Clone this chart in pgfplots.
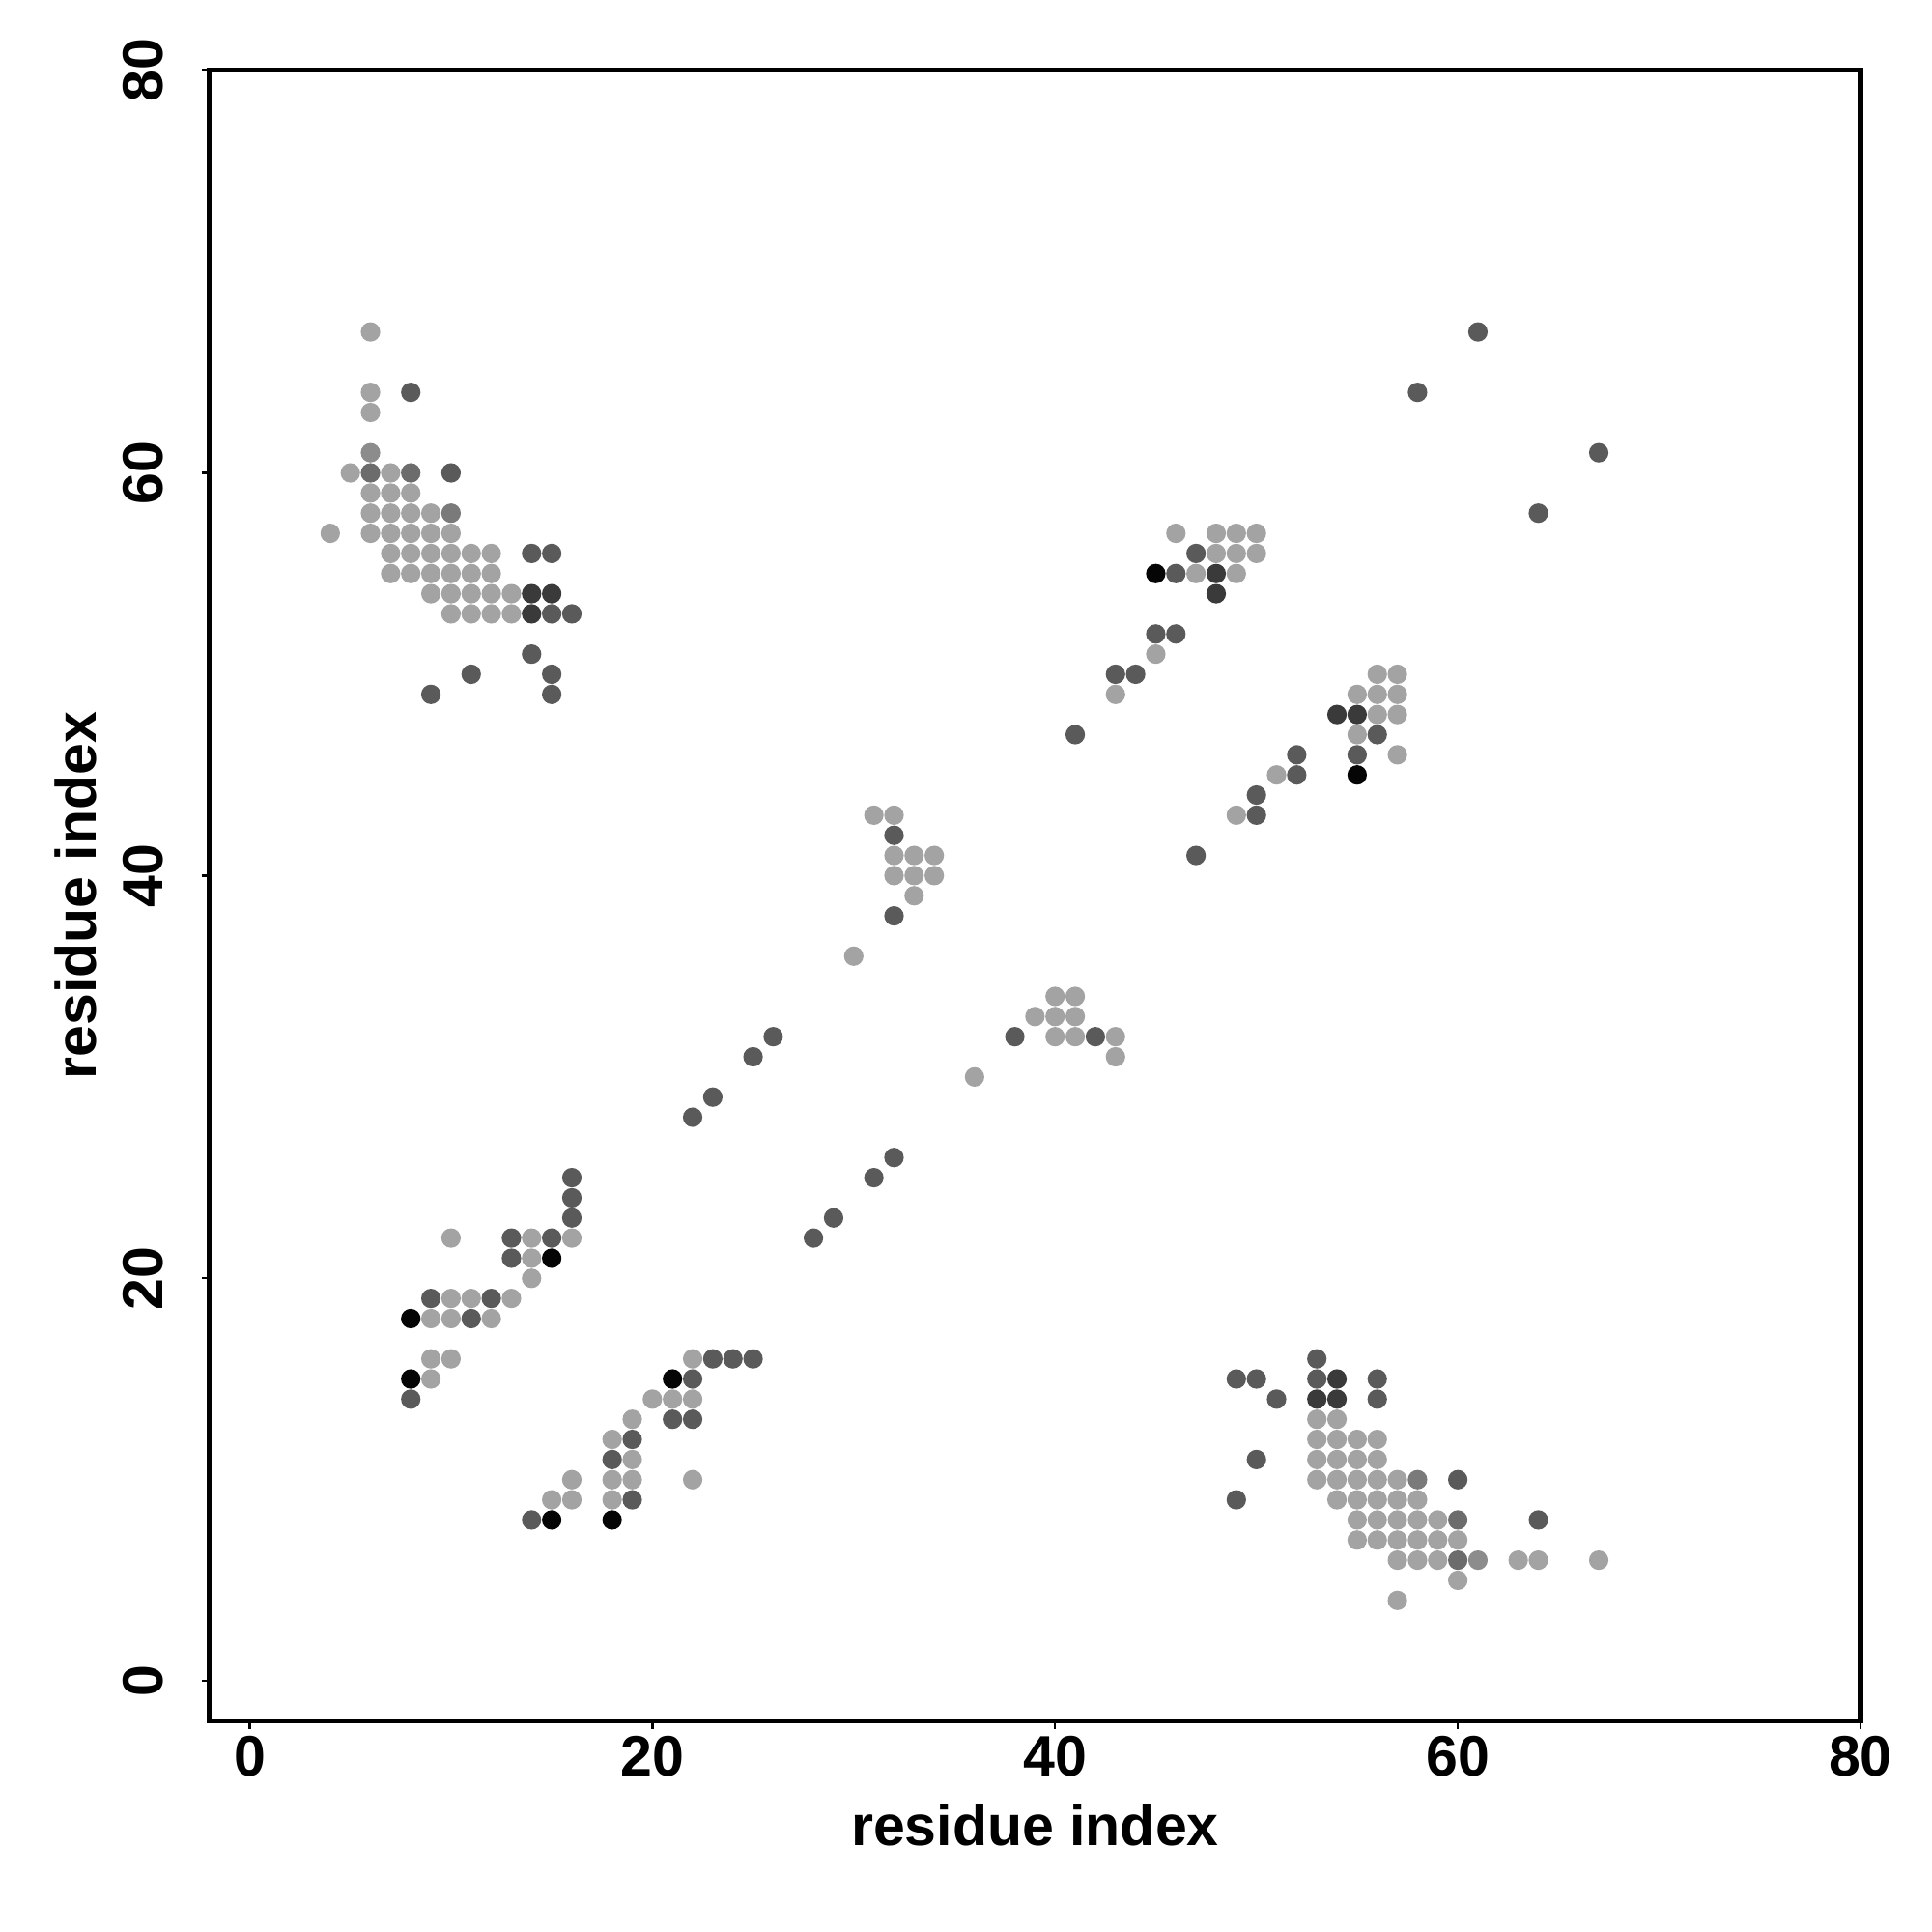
\documentclass[border=0pt]{standalone}
\usepackage{pgfplots}
\pgfplotsset{compat=1.18}
\usepackage{fontspec}
\setmainfont{Liberation Sans}
\definecolor{cL}{HTML}{A3A3A3}
\definecolor{cM1}{HTML}{8C8C8C}
\definecolor{cM2}{HTML}{7A7A7A}
\definecolor{cM3}{HTML}{6C6C6C}
\definecolor{cD}{HTML}{5A5A5A}
\definecolor{cVD}{HTML}{3A3A3A}
\definecolor{cB}{HTML}{050505}
\begin{document}
\begin{tikzpicture}
\begin{axis}[
  scale only axis,
  width=12.82cm, height=12.82cm,
  xmin=-2, xmax=80, ymin=-2, ymax=80,
  xtick={0,20,40,60,80}, ytick={0,20,40,60,80},
  xtick pos=bottom, ytick pos=left,
  tick align=outside,
  major tick length=0.06cm,
  tick style={line width=0.5pt, black},
  axis line style={line width=1.1pt},
  /pgf/number format/assume math mode=true,
  ticklabel style={font=\bfseries\fontsize{12.6}{15}\selectfont},
  xticklabel style={anchor=north, inner sep=0pt},
  xticklabel shift=0.05cm,
  yticklabel style={rotate=90, anchor=south, inner sep=0pt},
  yticklabel shift=0.29cm,
  label style={font=\bfseries\fontsize{12.6}{15}\selectfont},
  xlabel={residue index},
  ylabel={residue index},
  xlabel style={at={(axis description cs:0.5,-0.0753)}, anchor=base, inner sep=0pt},
  ylabel style={at={(axis description cs:-0.0685,0.5)}, anchor=base, inner sep=0pt},
  every axis plot/.append style={only marks, mark=*, mark size=1.95pt},
]
% light
\addplot[cL, mark options={fill=cL, draw=cL}] coordinates {
(6,67) (6,64) (6,63) (5,60) (7,60) (6,59) (7,59) (8,59) (6,58) (7,58) (8,58) (9,58) (4,57) (6,57) (7,57) (8,57) (9,57) (10,57) (7,56) (8,56) (9,56) (10,56) (11,56) (12,56) (7,55) (8,55) (9,55) (10,55) (11,55) (12,55) (9,54) (10,54) (11,54) (12,54) (13,54) (10,53) (11,53) (12,53) (13,53)
(10,22) (14,22) (16,22) (14,21) (14,20) (10,19) (11,19) (13,19) (9,18) (10,18) (12,18) (9,16) (10,16) (9,15)
(30,36) (31,43) (32,43) (32,41) (33,41) (34,41) (32,40) (33,40) (34,40) (33,39)
(43,49) (45,51) (46,57) (48,57) (49,57) (50,57) (48,56) (49,56) (50,56) (47,55) (49,55)
(67,6) (64,6) (63,6) (60,5) (60,7) (59,6) (59,7) (59,8) (58,6) (58,7) (58,8) (58,9) (57,4) (57,6) (57,7) (57,8) (57,9) (57,10) (56,7) (56,8) (56,9) (56,10) (56,11) (56,12) (55,7) (55,8) (55,9) (55,10) (55,11) (55,12) (54,9) (54,10) (54,11) (54,12) (54,13) (53,10) (53,11) (53,12) (53,13)
(22,10) (22,14) (22,16) (21,14) (20,14) (19,10) (19,11) (19,13) (18,9) (18,10) (18,12) (16,9) (16,10) (15,9)
(36,30) (43,31) (43,32) (41,32) (41,33) (41,34) (40,32) (40,33) (40,34) (39,33)
(49,43) (51,45) (57,46) (57,48) (57,49) (57,50) (56,48) (56,49) (56,50) (55,47) (55,49)
};
% medium shades
\addplot[cM1, mark options={fill=cM1, draw=cM1}] coordinates {(6,61) (61,6)};
\addplot[cM2, mark options={fill=cM2, draw=cM2}] coordinates {(10,58) (58,10)};
\addplot[cM3, mark options={fill=cM3, draw=cM3}] coordinates {(6,60) (8,60) (60,6) (60,8)};
% dark
\addplot[cD, mark options={fill=cD, draw=cD}] coordinates {
(8,64) (10,60) (14,56) (15,56) (15,53) (16,53) (14,51) (11,50) (15,50) (9,49) (15,49) (16,25) (16,24) (16,23) (13,22) (15,22) (13,21) (9,19) (12,19) (11,18) (8,14) (22,28) (23,29) (25,31) (26,32) (32,38) (32,42) (41,47) (43,50) (44,50) (45,52) (46,52) (47,56) (46,55) (58,64) (61,67)
(64,8) (60,10) (56,14) (56,15) (53,15) (53,16) (51,14) (50,11) (50,15) (49,9) (49,15) (25,16) (24,16) (23,16) (22,13) (22,15) (21,13) (19,9) (19,12) (18,11) (14,8) (28,22) (29,23) (31,25) (32,26) (38,32) (42,32) (47,41) (50,43) (50,44) (52,45) (52,46) (56,47) (55,46) (64,58) (67,61)
};
% very dark
\addplot[cVD, mark options={fill=cVD, draw=cVD}] coordinates {
(14,54) (15,54) (14,53) (48,55) (48,54) (54,14) (54,15) (53,14) (55,48) (54,48)
};
% black
\addplot[cB, mark options={fill=cB, draw=cB}] coordinates {
(15,21) (8,18) (8,15) (45,55) (21,15) (18,8) (15,8) (55,45)
};
\end{axis}
\path ([shift={(-1.626cm,-1.635cm)}]current axis.south west) rectangle ([shift={(0.555cm,0.545cm)}]current axis.north east);
\end{tikzpicture}
\end{document}
